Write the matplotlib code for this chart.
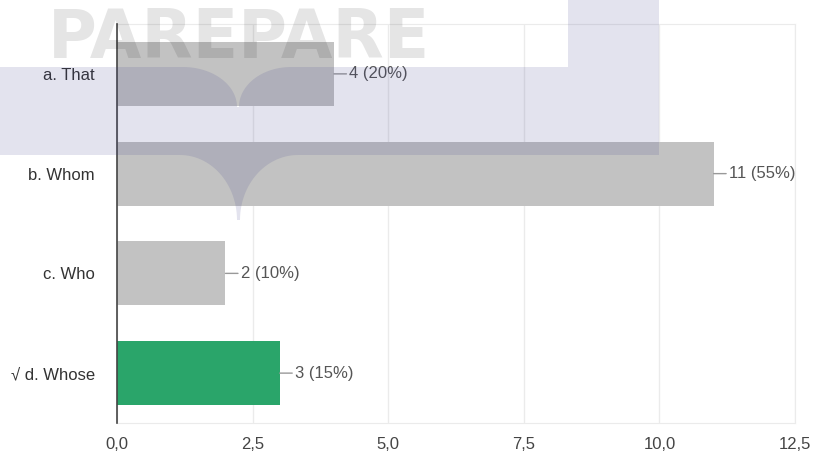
import numpy as np
import matplotlib
matplotlib.use("Agg")
import matplotlib.pyplot as plt
from matplotlib.patches import Polygon

categories = ["a. That", "b. Whom", "c. Who", "\u221a d. Whose"]
counts = [4, 11, 2, 3]
percents = [20, 55, 10, 15]
bar_colors = ["#c2c2c2", "#c2c2c2", "#c2c2c2", "#2aa56a"]
xticks = [0.0, 2.5, 5.0, 7.5, 10.0, 12.5]
xtick_labels = ["0,0", "2,5", "5,0", "7,5", "10,0", "12,5"]

W, H = 817, 466
plt.rcParams['font.family'] = ['Liberation Sans', 'DejaVu Sans']
fig = plt.figure(figsize=(W / 100, H / 100), dpi=100)
ax = fig.add_axes([117 / W, 1 - 423 / H, (795 - 117) / W, (423 - 24) / H])

y = np.arange(len(categories))
bars = ax.barh(y, counts, height=0.64, color=bar_colors, zorder=2)
ax.set_ylim(len(categories) - 0.5, -0.5)
ax.set_xlim(0, 12.5)
ax.set_xticks(xticks)
ax.set_xticklabels(xtick_labels, fontsize=12, color="#444444")
ax.set_yticks(y)
ax.set_yticklabels(categories, fontsize=12, color="#333333")
ax.tick_params(axis='x', length=0, pad=10)
ax.tick_params(axis='y', length=0, pad=16)
ax.grid(axis='x', color="#ebebeb", lw=1, zorder=0)
for s in ["top", "right", "bottom"]:
    ax.spines[s].set_color("#ebebeb")
ax.spines["left"].set_color("#444444")
ax.spines["left"].set_linewidth(1.2)
ax.spines["left"].set_zorder(3)

for yi, c, p in zip(y, counts, percents):
    ax.annotate(f"{c} ({p}%)", xy=(c, yi), xytext=(11, 0), textcoords='offset points',
                ha='left', va='center', fontsize=12, color="#555555",
                arrowprops=dict(arrowstyle='-', color="#999999", lw=1, shrinkA=0, shrinkB=0))

# ---- watermark (logo overlay) ----
def px(pts):
    return [(xx / W, 1 - yy / H) for xx, yy in pts]

def arc(cx, cy, rx, ry, t0, t1, n=30):
    t = np.linspace(t0, t1, n)
    return [(cx + rx * np.cos(a), cy + ry * np.sin(a)) for a in t]

wm_color = (68 / 255, 68 / 255, 142 / 255)
pts = [(-2, 67), (183, 67)]
pts += arc(183, 107, 54, 40, -np.pi / 2, 0)
pts += arc(291, 107, 52, 40, np.pi, 3 * np.pi / 2)
pts += [(568, 67), (568, -2), (659, -2), (659, 155), (298, 155)]
pts += arc(298, 220, 58, 65, -np.pi / 2, -np.pi)
pts += arc(180, 220, 57, 65, 0, -np.pi / 2)
pts += [(-2, 155)]
fig.add_artist(Polygon(px(pts), closed=True, transform=fig.transFigure,
                       facecolor=wm_color, alpha=0.15, edgecolor='none', zorder=10))

fig.text(239 / W, 1 - 58 / H, "PAREPARE", family="DejaVu Sans", fontweight="bold",
         fontsize=48, color="black", alpha=0.1, ha="center", va="baseline", zorder=11)

fig.savefig("out.png", dpi=100)
